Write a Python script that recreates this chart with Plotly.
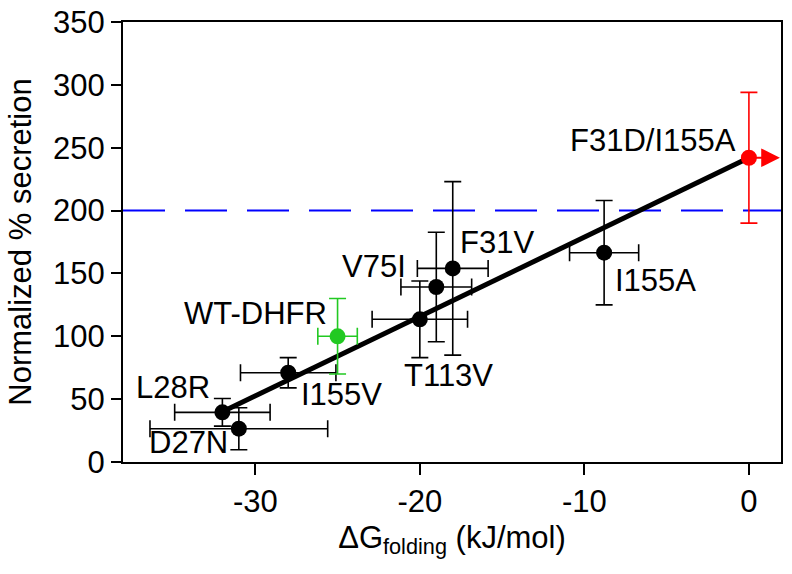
import plotly.graph_objects as go

# ---- data ----
mutants = ["L28R", "D27N", "I155V", "WT-DHFR", "T113V", "V75I", "F31V", "I155A", "F31D/I155A"]
dG_folding = [-32.0, -31.0, -28.0, -25.0, -20.0, -19.0, -18.0, -8.8, 0.0]
dG_err = [2.9, 5.4, 2.9, 1.2, 2.9, 2.15, 2.15, 2.1, 0.0]
secretion = [39.5, 26.5, 71.0, 100.0, 113.5, 139.2, 154.0, 166.5, 242.0]
secretion_err = [11.0, 16.7, 12.0, 30.0, 30.5, 43.5, 69.0, 41.5, 52.0]
group = ["mutant", "mutant", "mutant", "wt", "mutant", "mutant", "mutant", "mutant", "unstable"]

fit_x = [-32.0, 0.0]
fit_y = [40.0, 242.0]
threshold = 200

x_ticks = [-30, -20, -10, 0]
x_tick_labels = ["-30", "-20", "-10", "0"]
y_ticks = [0, 50, 100, 150, 200, 250, 300, 350]

# ---- style ----
FONT = "Arial, Liberation Sans, sans-serif"
FS = 31
colors = {"mutant": "black", "wt": "#22c922", "unstable": "#ff0000"}
label_offsets = {
    "L28R": (-49, 25), "D27N": (-50, -14), "I155V": (53, -22),
    "WT-DHFR": (-82, 23), "T113V": (29, -56), "V75I": (-62, 21),
    "F31V": (44, 26), "I155A": (51, -28), "F31D/I155A": (-96, 17),
}

fig = go.Figure()

fig.add_trace(go.Scatter(x=fit_x, y=fit_y, mode="lines",
                         line=dict(color="black", width=5), showlegend=False))

for g in ["mutant", "wt", "unstable"]:
    idx = [i for i, v in enumerate(group) if v == g]
    fig.add_trace(go.Scatter(
        x=[dG_folding[i] for i in idx],
        y=[secretion[i] for i in idx],
        mode="markers",
        marker=dict(color=colors[g], size=16),
        error_x=dict(type="data", array=[dG_err[i] for i in idx], color=colors[g],
                     thickness=1.6, width=8.5, visible=any(dG_err[i] > 0 for i in idx)),
        error_y=dict(type="data", array=[secretion_err[i] for i in idx], color=colors[g],
                     thickness=1.6, width=8.5),
        showlegend=False,
    ))

for i, name in enumerate(mutants):
    dx, dy = label_offsets[name]
    fig.add_annotation(x=dG_folding[i], y=secretion[i], text=name, showarrow=False,
                       xshift=dx, yshift=dy, xanchor="center", yanchor="middle",
                       font=dict(family=FONT, size=FS, color="black"))

# arrow for the destabilized mutant (value is a lower bound)
k = group.index("unstable")
fig.add_annotation(x=dG_folding[k], y=secretion[k], text=" ", showarrow=True,
                   xshift=31, ax=-31, ay=0, arrowhead=2, arrowsize=1.7,
                   arrowwidth=2.2, arrowcolor="#ff0000")

fig.add_shape(type="line", xref="paper", x0=0, x1=1, yref="y", y0=threshold, y1=threshold,
              line=dict(color="#0000ff", width=2, dash="42px,20px"), layer="below")

axis_common = dict(showline=True, linewidth=2, linecolor="black", mirror=True,
                   ticks="outside", tickwidth=2, tickcolor="black", showgrid=False,
                   zeroline=False, automargin=False,
                   tickfont=dict(family=FONT, size=FS, color="black"))

fig.update_xaxes(range=[-38.04, 1.95], tickvals=x_ticks, ticktext=x_tick_labels, ticklen=11,
                 title=dict(text="ΔG<sub>folding</sub> (kJ/mol)",
                            font=dict(family=FONT, size=FS, color="black"), standoff=8),
                 **axis_common)
fig.update_yaxes(range=[0, 350], tickvals=y_ticks, ticklen=10,
                 title=dict(text="Normalized % secretion",
                            font=dict(family=FONT, size=FS, color="black"), standoff=12),
                 **axis_common)

fig.update_layout(width=792, height=574, margin=dict(l=123, r=11, t=22, b=112),
                  plot_bgcolor="white", paper_bgcolor="white",
                  font=dict(family=FONT, size=FS, color="black"))

fig.write_html("out.html", config={"displayModeBar": False},
               post_script="document.body.style.margin='0';document.body.style.overflow='hidden';")
